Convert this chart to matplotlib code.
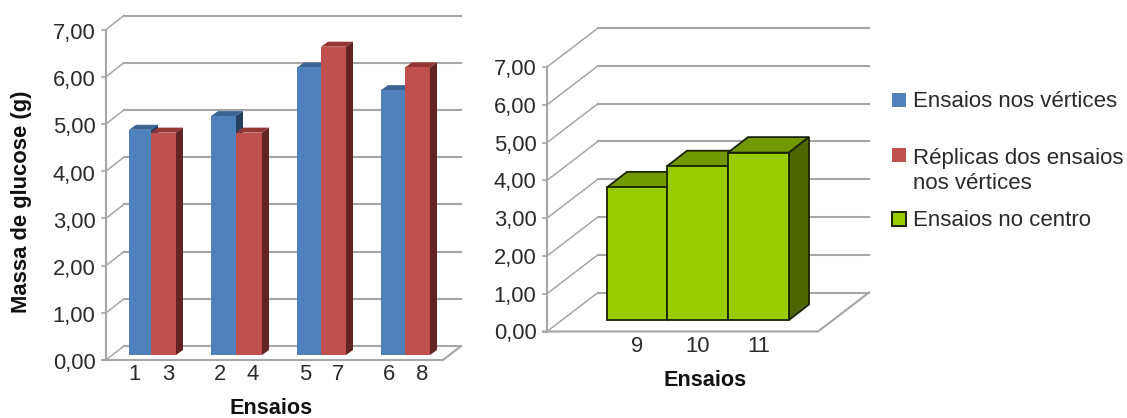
import matplotlib
matplotlib.use("Agg")
import matplotlib.pyplot as plt
from matplotlib.patches import Polygon, Rectangle

plt.rcParams["font.family"] = ["Liberation Sans", "DejaVu Sans"]

# ----------------------------
# Data
# ----------------------------

y_ticks = [0, 1, 2, 3, 4, 5, 6, 7]
y_tick_labels = ["0,00", "1,00", "2,00", "3,00", "4,00", "5,00", "6,00", "7,00"]

vertices_labels = ["1", "2", "5", "6"]
vertices_values = [4.77, 5.06, 6.09, 5.61]
replica_labels = ["3", "4", "7", "8"]
replica_values = [4.71, 4.71, 6.53, 6.09]

centre_labels = ["9", "10", "11"]
centre_values = [3.51, 4.07, 4.43]

legend_labels = ["Ensaios nos vértices", "Réplicas dos ensaios\nnos vértices", "Ensaios no centro"]

# ----------------------------
# Styles
# ----------------------------

W, H = 1127, 418
GRID = "#a6a6a6"
TEXT = "#2a2a2a"
BLUE = ("#4f81bd", "#3a6595", "#254061")
RED = ("#c0504d", "#963634", "#632523")
GREEN = ("#99cc00", "#739900", "#4d6600")
FS = 15.8


def make_axes(zero_px, seven_px):
    # full-figure axes: x counted in pixels, y in grams
    scale = (zero_px - seven_px) / 7
    ax = fig.add_axes([0, 0, 1, 1])
    ax.set_xlim(0, W)
    ax.set_ylim((zero_px - H) / scale, zero_px / scale)
    ax.axis("off")
    ax.patch.set_alpha(0)
    return ax, scale


def draw_walls(ax, scale, left, right, dx, dy_px, label_shift):
    dy = dy_px / scale
    for t, label in zip(y_ticks, y_tick_labels):
        ax.plot([left, left + dx], [t, t + dy], color=GRID, lw=1.1, zorder=1)
        ax.plot([left + dx, right + dx], [t + dy, t + dy], color=GRID, lw=1.5, zorder=1)
        ax.plot([left - 4, left], [t, t], color=GRID, lw=1.2, zorder=1)
        ax.text(left - 10.5, t - label_shift / scale, label, ha="right", va="center", fontsize=FS, color=TEXT)
    ax.plot([left, left], [0, y_ticks[-1]], color=GRID, lw=1.5, zorder=1)
    ax.plot([left - 4, right, right + dx], [0, 0, dy], color=GRID, lw=1.5, zorder=1)


def draw_bar(ax, scale, x0, x1, base_px, value, colors, dx, dy_px, edge=None, z=3):
    # front face plus the top and side faces of a bar standing on the floor
    base = base_px / scale
    height = base + value
    dy = dy_px / scale
    lw = 1.3 if edge else 0
    ec = edge if edge else "none"
    top = [(x0, height), (x1, height), (x1 + dx, height + dy), (x0 + dx, height + dy)]
    side = [(x1, height), (x1 + dx, height + dy), (x1 + dx, base + dy), (x1, base)]
    ax.add_patch(Polygon(top, fc=colors[1], ec=ec, lw=lw, zorder=z))
    ax.add_patch(Polygon(side, fc=colors[2], ec=ec, lw=lw, zorder=z))
    ax.add_patch(Rectangle((x0, base), x1 - x0, value, fc=colors[0], ec=ec, lw=lw, zorder=z + 0.5))


fig = plt.figure(figsize=(W / 100, H / 100), dpi=100, facecolor="white")

# ----------------------------
# Left chart: vertex runs and replicas
# ----------------------------

ax1, s1 = make_axes(360, 29.5)
draw_walls(ax1, s1, 106, 443, 18, 14, 4)

group_left = [129, 211, 297, 381]
group_mid = [151, 236, 321, 405]
group_right = [176, 262, 346, 430]

for i in range(len(vertices_values)):
    z = 3 + i
    draw_bar(ax1, s1, group_left[i], group_mid[i], 5, vertices_values[i], BLUE, 7, 5, z=z)
    draw_bar(ax1, s1, group_mid[i], group_right[i], 5, replica_values[i], RED, 7, 5, z=z + 0.6)
    ax1.text(group_mid[i] - 16, -14.5 / s1, vertices_labels[i], ha="center", va="center", fontsize=FS, color=TEXT)
    ax1.text(group_mid[i] + 17, -14.5 / s1, replica_labels[i], ha="center", va="center", fontsize=FS, color=TEXT)

ax1.text(271, -48 / s1, "Ensaios", ha="center", va="center", fontsize=15.6, fontweight="bold", color="#111111")
ax1.text(22, (360 - 201.5) / s1, "Massa de glucose (g)", rotation=90, ha="center", va="center",
         fontsize=15.8, fontweight="bold", color="#111111")

# ----------------------------
# Right chart: centre runs
# ----------------------------

ax2, s2 = make_axes(331.5, 67)
draw_walls(ax2, s2, 547, 818, 51, 39, 2.5)

bar_edges = [607, 667, 728, 789]
for i in range(len(centre_values)):
    draw_bar(ax2, s2, bar_edges[i], bar_edges[i + 1], 11.5, centre_values[i], GREEN, 20, 15.5, edge="#1a2400", z=3 + i)
    ax2.text((bar_edges[i] + bar_edges[i + 1]) / 2, -15.5 / s2, centre_labels[i], ha="center", va="center",
             fontsize=FS, color=TEXT)

ax2.text(705, -49 / s2, "Ensaios", ha="center", va="center", fontsize=15.6, fontweight="bold", color="#111111")

# ----------------------------
# Legend
# ----------------------------

legend_y = [101.5, 171, 220.5]
legend_fill = [BLUE[0], RED[0], GREEN[0]]
legend_edge = ["none", "none", "#1a2400"]
legend_box_y = [100, 155, 219]
for label, y, by, fc, ec in zip(legend_labels, legend_y, legend_box_y, legend_fill, legend_edge):
    fig.add_artist(Rectangle((892 / W, 1 - (by + 7) / H), 14 / W, 14 / H, fc=fc, ec=ec, lw=1.4,
                             transform=fig.transFigure))
    fig.text(913 / W, 1 - y / H, label, ha="left", va="center", fontsize=16, color=TEXT, linespacing=1.3)

plt.savefig("out.png", dpi=100)
plt.close()
